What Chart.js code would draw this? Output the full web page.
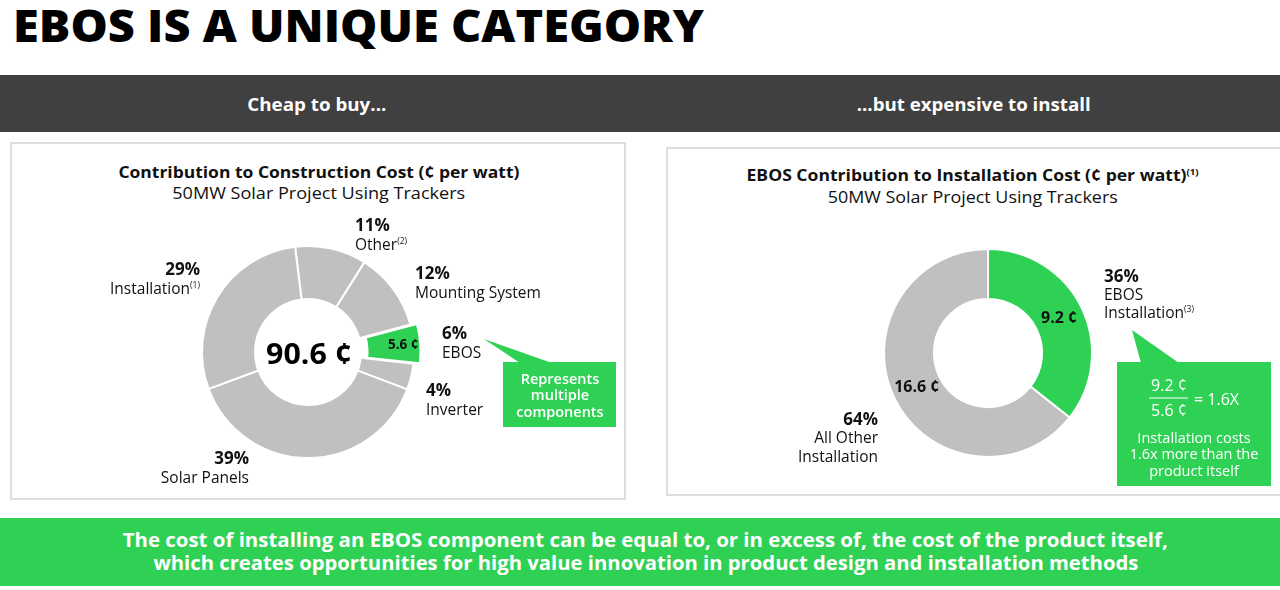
<!DOCTYPE html>
<html>
<head>
<meta charset="utf-8">
<script src="https://cdn.jsdelivr.net/npm/chart.js@4/dist/chart.umd.min.js"></script>
<style>
  html, body { margin: 0; padding: 0; background: #fff; }
  body { width: 1280px; height: 590px; position: relative; overflow: hidden; font-family: "Open Sans", "DejaVu Sans", sans-serif; color: #111; }
  .abs { position: absolute; white-space: nowrap; }
  .abs span { display: inline-block; }
  .panel { position: absolute; border: 2px solid #dedede; box-sizing: border-box; }
  .box { position: absolute; background: #2fd155; }
  sup { font-size: 55%; vertical-align: 0.7em; line-height: 0; }
  canvas { position: absolute; }
</style>
</head>
<body>
<div style="position:absolute;left:0;top:75px;width:1280px;height:57px;background:#404040"></div>
<div style="position:absolute;left:0;top:518px;width:1280px;height:68px;background:#2fd155"></div>

<div class="panel" style="left:10px;top:142px;width:616px;height:358px"></div>
<div class="panel" style="left:666px;top:147px;width:616px;height:349px"></div>

<div class="box" style="left:503px;top:362px;width:113px;height:65px"></div>
<div class="box" style="left:1117px;top:362px;width:154px;height:124px"></div>
<svg style="position:absolute;left:0;top:0" width="1280" height="590">
  <polygon points="484,339 520,363 552,363" fill="#2fd155"/>
  <polygon points="1132,330 1141,363 1179,363" fill="#2fd155"/>
  <line x1="1149" y1="398" x2="1188" y2="398" stroke="#fff" stroke-width="1.2"/>
</svg>

<canvas id="costChart" width="260" height="260" style="left:178px;top:222px"></canvas>
<canvas id="installChart" width="260" height="260" style="left:858px;top:223px"></canvas>

<div id="labels"></div>

<script>
// Left chart: share of construction cost (%), clockwise from top
const costCategories = ['Other', 'Mounting System', 'EBOS', 'Inverter', 'Solar Panels', 'Installation'];
const costShares = [11, 12, 6, 4, 39, 29];
const costNotes = ['(2)', '', '', '', '', '(1)'];
const totalCents = 90.6;
const ebosCents = 5.6;

// Right chart: installation cost (cents per watt)
const installCategories = ['EBOS Installation', 'All Other Installation'];
const installCents = [9.2, 16.6];
const installShares = [36, 64];

const GREEN = '#2fd155';
const GRAY = '#c0c0c0';

// text drawn on the slices themselves
const sliceText = {
  costChart: costCategories.map(c => c === 'EBOS' ? ebosCents + ' ¢' : ''),
  installChart: installCents.map(v => v + ' ¢')
};
const sliceFont = { costChart: 'bold 13.5px "Open Sans", sans-serif', installChart: 'bold 16px "Open Sans", sans-serif' };

const sliceLabelPlugin = {
  id: 'sliceLabels',
  afterDatasetsDraw(chart) {
    const ctx = chart.ctx;
    const id = chart.canvas.id;
    const texts = sliceText[id];
    chart.getDatasetMeta(0).data.forEach((arc, i) => {
      if (!texts[i]) return;
      const p = arc.getProps(['x', 'y', 'startAngle', 'endAngle', 'innerRadius', 'outerRadius']);
      const a = (p.startAngle + p.endAngle) / 2;
      const r = (p.innerRadius + p.outerRadius) / 2 + (arc.options.offset || 0);
      ctx.save();
      ctx.font = sliceFont[id];
      ctx.fillStyle = '#111';
      ctx.textAlign = 'center';
      ctx.textBaseline = 'middle';
      ctx.fillText(texts[i], p.x + Math.cos(a) * r, p.y + Math.sin(a) * r);
      ctx.restore();
    });
  }
};

function donutOptions(rotation, radius, cutout) {
  return {
    responsive: false,
    animation: false,
    rotation: rotation,
    radius: radius,
    cutout: cutout,
    layout: { padding: 0 },
    plugins: { legend: { display: false }, tooltip: { enabled: false } }
  };
}

new Chart(document.getElementById('costChart'), {
  type: 'doughnut',
  data: {
    labels: costCategories,
    datasets: [{
      data: costShares,
      backgroundColor: costCategories.map(c => c === 'EBOS' ? GREEN : GRAY),
      borderColor: '#fff',
      borderWidth: 2,
      offset: costCategories.map(c => c === 'EBOS' ? 16 : 0)
    }]
  },
  options: donutOptions(-7, 106, '50%'),
  plugins: [sliceLabelPlugin]
});

new Chart(document.getElementById('installChart'), {
  type: 'doughnut',
  data: {
    labels: installCategories,
    datasets: [{
      data: installCents,
      backgroundColor: [GREEN, GRAY],
      borderColor: '#fff',
      borderWidth: 2
    }]
  },
  options: donutOptions(0, 104, '52%'),
  plugins: [sliceLabelPlugin]
});

// ---- text overlay ----
const layer = document.getElementById('labels');

// one text block; lines = [html, size, weight, lineHeight, fitWidth?]
// align 'l' / 'r' / 'c' relative to x, y = middle of the first line
function addBlock(x, y, align, color, lines) {
  const box = document.createElement('div');
  box.className = 'abs';
  box.style.color = color || '#111';
  box.style.textAlign = align === 'c' ? 'center' : align === 'r' ? 'right' : 'left';
  const spans = lines.map(([html, size, weight, lh]) => {
    const row = document.createElement('div');
    row.style.height = lh + 'px';
    row.style.lineHeight = lh + 'px';
    const sp = document.createElement('span');
    sp.innerHTML = html;
    sp.style.fontSize = size + 'px';
    sp.style.fontWeight = weight;
    row.appendChild(sp);
    box.appendChild(row);
    return sp;
  });
  layer.appendChild(box);
  spans.forEach((sp, i) => {
    const fit = lines[i][4];
    if (!fit) return;
    sp.style.transformOrigin = align === 'c' ? 'center' : align === 'r' ? 'right' : 'left';
    sp.style.transform = `scaleX(${fit / sp.getBoundingClientRect().width})`;
  });
  const w = box.getBoundingClientRect().width;
  box.style.top = (y - lines[0][3] / 2) + 'px';
  box.style.left = (align === 'c' ? x - w / 2 : align === 'r' ? x - w : x) + 'px';
  return box;
}

addBlock(13, 25, 'l', '#000', [['EBOS IS A UNIQUE CATEGORY', 44, 800, 50, 691]]);

addBlock(317, 104, 'c', '#fff', [['Cheap to buy...', 17.5, 700, 24, 139]]);
addBlock(974, 104, 'c', '#fff', [['...but expensive to install', 17.5, 700, 24, 234]]);

addBlock(319, 172, 'c', '#111', [
  ['Contribution to Construction Cost (¢ per watt)', 15.5, 700, 21, 401],
  ['50MW Solar Project Using Trackers', 16, 400, 21, 293]
]);
addBlock(973, 175, 'c', '#111', [
  ['EBOS Contribution to Installation Cost (¢ per watt)<sup>(1)</sup>', 15.5, 700, 22, 452],
  ['50MW Solar Project Using Trackers', 16, 400, 22, 290]
]);

addBlock(309, 353, 'c', '#000', [[totalCents + ' ¢', 29, 700, 34, 86]]);

// outside labels for the left chart
const costLabelPos = [
  { x: 355, y: 225, a: 'l' },
  { x: 415, y: 273, a: 'l' },
  { x: 442, y: 333, a: 'l' },
  { x: 426, y: 390, a: 'l' },
  { x: 249, y: 458, a: 'r' },
  { x: 200, y: 269, a: 'r' }
];
costCategories.forEach((c, i) => {
  const p = costLabelPos[i];
  const note = costNotes[i] ? `<sup>${costNotes[i]}</sup>` : '';
  addBlock(p.x, p.y, p.a, '#111', [
    [costShares[i] + '%', 17, 700, 19.5],
    [c + note, 15.5, 400, 19.5]
  ]);
});

// outside labels for the right chart
addBlock(1104, 276, 'l', '#111', [
  [installShares[0] + '%', 17, 700, 18],
  ['EBOS', 15.5, 400, 18],
  ['Installation<sup>(3)</sup>', 15.5, 400, 18]
]);
addBlock(878, 419, 'r', '#111', [
  [installShares[1] + '%', 17, 700, 18.5],
  ['All Other', 15.5, 400, 18.5],
  ['Installation', 15.5, 400, 18]
]);

// callouts
addBlock(560, 378, 'c', '#fff', ['Represents', 'multiple', 'components'].map(t => [t, 14.5, 600, 16.5]));

addBlock(1169, 385, 'c', '#fff', [[installCents[0] + ' ¢', 16, 400, 25], [ebosCents + ' ¢', 16, 400, 25]]);
addBlock(1194, 399, 'l', '#fff', [['= ' + (installCents[0] / ebosCents).toFixed(1) + 'X', 16, 400, 20]]);
addBlock(1194, 437, 'c', '#fff', ['Installation costs', '1.6x more than the', 'product itself'].map(t => [t, 14.5, 400, 16.5]));

// bottom message
addBlock(645.5, 540, 'c', '#fff', [
  ['The cost of installing an EBOS component can be equal to, or in excess of, the cost of the product itself,', 19, 700, 23, 1045],
  ['which creates opportunities for high value innovation in product design and installation methods', 19, 700, 23, 985]
]);
</script>
</body>
</html>
